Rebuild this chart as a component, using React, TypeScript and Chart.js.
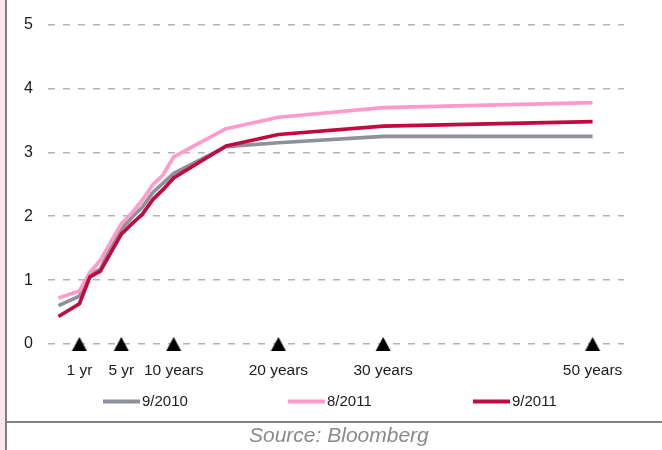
import { useEffect, useRef } from 'react';
import { Chart, registerables } from 'chart.js';

Chart.register(...registerables);

// Curve tenors in years; the shortest point sits one slot left of the origin
const tenors = [-1, 1, 2, 3, 4, 5, 6, 7, 8, 9, 10, 15, 20, 30, 50];

const seriesLabels = ['9/2010', '8/2011', '9/2011'];
const curveSep2010 = [0.6, 0.75, 1.09, 1.17, 1.52, 1.8, 1.98, 2.14, 2.37, 2.52, 2.67, 3.09, 3.15, 3.25, 3.25];
const curveAug2011 = [0.72, 0.83, 1.12, 1.31, 1.6, 1.88, 2.05, 2.25, 2.49, 2.65, 2.93, 3.37, 3.55, 3.7, 3.78];
const curveSep2011 = [0.43, 0.63, 1.05, 1.14, 1.43, 1.72, 1.88, 2.03, 2.26, 2.42, 2.6, 3.1, 3.28, 3.41, 3.48];

// Benchmark maturities marked with a triangle on the axis
const markerTenors = [1, 5, 10, 20, 30, 50];
const markerLabels = ['1 yr', '5 yr', '10 years', '20 years', '30 years', '50 years'];

const yTicks = [0, 1, 2, 3, 4, 5];

const colors = ['#8e909c', '#ff9acb', '#c00a40'];

const FONT = '"Liberation Sans", Arial, sans-serif';
const TEXT = '#1c1c1c';

// Legend laid out in three evenly spaced columns under the axis
const LEGEND_Y = 401.5;
const LEGEND_OFFSET = 55;
const LEGEND_STEP = 185;
const LEGEND_SWATCH = 37;

const legendPlugin = {
  id: 'curveLegend',
  afterDraw(chart: any) {
    const { ctx, chartArea } = chart;
    const items = chart.data.datasets.filter((d: any) => d.label);
    ctx.save();
    items.forEach((ds: any, i: number) => {
      const x0 = chartArea.left + LEGEND_OFFSET + i * LEGEND_STEP;
      ctx.strokeStyle = ds.borderColor;
      ctx.lineWidth = 4;
      ctx.lineCap = 'butt';
      ctx.beginPath();
      ctx.moveTo(x0, LEGEND_Y);
      ctx.lineTo(x0 + LEGEND_SWATCH, LEGEND_Y);
      ctx.stroke();
      ctx.fillStyle = TEXT;
      ctx.font = `15px ${FONT}`;
      ctx.textBaseline = 'middle';
      ctx.textAlign = 'left';
      ctx.fillText(ds.label, x0 + LEGEND_SWATCH + 2, LEGEND_Y);
    });
    ctx.restore();
  },
};

// Solid black triangle sprite, centred on its point
function makeTriangle(): HTMLCanvasElement {
  const w = 16;
  const h = 14;
  const c = document.createElement('canvas');
  c.width = w;
  c.height = h;
  const g = c.getContext('2d')!;
  g.fillStyle = '#000';
  g.beginPath();
  g.moveTo(w / 2, 0);
  g.lineTo(w - 0.5, h);
  g.lineTo(0.5, h);
  g.closePath();
  g.fill();
  return c;
}

const toPoints = (values: number[]) => values.map((v, i) => ({ x: tenors[i], y: v }));

export default function App() {
  const canvasRef = useRef<HTMLCanvasElement | null>(null);

  useEffect(() => {
    if (!canvasRef.current) return;
    Chart.defaults.font.family = FONT;
    const curves = [curveSep2010, curveAug2011, curveSep2011];
    const tri = makeTriangle();
    const chart = new Chart(canvasRef.current, {
      type: 'line',
      data: {
        datasets: [
          ...curves.map((values, i) => ({
            label: seriesLabels[i],
            data: toPoints(values),
            borderColor: colors[i],
            backgroundColor: colors[i],
            borderWidth: 3.7,
            pointRadius: 0,
            tension: 0,
            borderJoinStyle: 'round' as const,
            order: 3 - i,
          })),
          {
            label: '',
            data: markerTenors.map((t) => ({ x: t, y: 0 })),
            showLine: false,
            pointStyle: tri as any,
            pointRadius: 8,
            clip: false as any,
            order: 0,
          },
        ],
      },
      options: {
        responsive: false,
        animation: false,
        layout: { padding: { left: 0, top: 20, right: 38, bottom: 66 } },
        plugins: { legend: { display: false }, tooltip: { enabled: false } },
        scales: {
          x: {
            type: 'linear',
            min: -2,
            max: 53,
            grid: { display: false, drawTicks: false },
            border: { display: false },
            afterBuildTicks: (scale: any) => {
              scale.ticks = markerTenors.map((v) => ({ value: v }));
            },
            afterFit: (scale: any) => {
              scale.height = 40;
            },
            ticks: {
              autoSkip: false,
              maxRotation: 0,
              padding: 17,
              color: TEXT,
              font: { size: 15.5 },
              callback: (v: any) => markerLabels[markerTenors.indexOf(Number(v))] ?? '',
            },
          },
          y: {
            min: 0,
            max: 5,
            afterBuildTicks: (scale: any) => {
              scale.ticks = yTicks.map((v) => ({ value: v }));
            },
            afterFit: (scale: any) => {
              scale.width = 48;
            },
            grid: {
              drawTicks: false,
              color: '#b2b2ba',
              lineWidth: 1.5,
            },
            border: { display: false, dash: [7, 8] },
            ticks: {
              padding: 15,
              color: TEXT,
              font: { size: 16 },
            },
          },
        },
      },
      plugins: [legendPlugin],
    });
    return () => chart.destroy();
  }, []);

  return (
    <div style={{ position: 'absolute', left: 0, top: 0, width: 662, height: 450, background: '#fff', overflow: 'hidden' }}>
      <canvas ref={canvasRef} width={662} height={450} style={{ position: 'absolute', left: 0, top: 0 }} />
      <div style={{ position: 'absolute', left: 0, top: 0, width: 5, height: 450, background: '#fbe4ec' }} />
      <div style={{ position: 'absolute', left: 5, top: 0, width: 2, height: 450, background: '#808080' }} />
      <div style={{ position: 'absolute', left: 7, top: 421, width: 655, height: 2, background: '#808080' }} />
      <div
        style={{
          position: 'absolute',
          left: 249,
          top: 423,
          fontFamily: FONT,
          fontStyle: 'italic',
          fontSize: 21,
          lineHeight: '24px',
          color: '#8a8a8a',
          whiteSpace: 'nowrap',
        }}
      >
        Source: Bloomberg
      </div>
    </div>
  );
}
